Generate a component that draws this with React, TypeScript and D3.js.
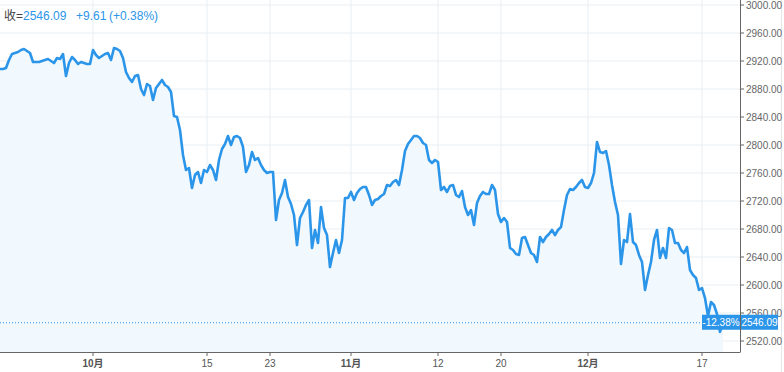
import React from "react";
import * as d3 from "d3";

// closing prices, one per bar
const prices = [
  2908.6, 2908.6, 2910.0, 2921.4, 2930.0, 2931.4, 2932.9, 2935.7, 2937.1, 2934.3,
  2931.4, 2918.6, 2918.6, 2918.6, 2920.0, 2921.4, 2922.9, 2920.0, 2917.1, 2924.3,
  2922.9, 2930.0, 2898.6, 2917.1, 2925.7, 2921.4, 2915.7, 2918.6, 2917.1, 2915.7,
  2915.7, 2935.7, 2928.6, 2924.3, 2927.1, 2930.0, 2931.4, 2921.4, 2938.6, 2937.1,
  2934.3, 2924.3, 2904.3, 2895.7, 2890.0, 2898.6, 2900.0, 2880.0, 2871.4, 2887.1,
  2884.3, 2864.3, 2881.4, 2887.1, 2892.9, 2885.7, 2882.9, 2875.7, 2841.4, 2840.0,
  2821.4, 2785.7, 2764.3, 2767.1, 2738.6, 2757.1, 2761.4, 2745.7, 2764.3, 2761.4,
  2771.4, 2764.3, 2750.0, 2778.6, 2794.3, 2801.4, 2812.9, 2800.0, 2811.4, 2812.9,
  2810.0, 2797.1, 2761.4, 2771.4, 2790.0, 2778.6, 2781.4, 2771.4, 2764.3, 2760.0,
  2761.4, 2761.4, 2692.9, 2721.4, 2731.4, 2750.0, 2725.7, 2715.7, 2700.0, 2657.1,
  2695.7, 2704.3, 2714.3, 2721.4, 2652.9, 2678.6, 2660.0, 2711.4, 2681.4, 2671.4,
  2625.7, 2645.7, 2664.3, 2645.7, 2664.3, 2724.3, 2724.3, 2732.9, 2721.4, 2731.4,
  2737.1, 2740.0, 2740.0, 2728.6, 2714.3, 2721.4, 2722.9, 2727.1, 2730.0, 2742.9,
  2741.4, 2747.1, 2750.0, 2742.9, 2764.3, 2791.4, 2801.4, 2807.1, 2812.9, 2812.9,
  2810.0, 2802.9, 2800.0, 2778.6, 2774.3, 2778.6, 2775.7, 2735.7, 2740.0, 2732.9,
  2741.4, 2742.9, 2728.6, 2725.7, 2734.3, 2711.4, 2700.0, 2707.1, 2685.7, 2717.1,
  2727.1, 2732.9, 2730.0, 2730.0, 2742.9, 2735.7, 2701.4, 2690.0, 2695.7, 2690.0,
  2652.9, 2650.0, 2644.3, 2642.9, 2667.1, 2668.6, 2657.1, 2645.7, 2642.9, 2632.9,
  2668.6, 2661.4, 2668.6, 2672.9, 2678.6, 2671.4, 2678.6, 2682.9, 2707.1, 2728.6,
  2737.1, 2735.7, 2740.0, 2745.7, 2750.0, 2740.0, 2738.6, 2745.7, 2760.0, 2804.3,
  2790.0, 2788.6, 2791.4, 2771.4, 2742.9, 2718.6, 2700.0, 2630.0, 2664.3, 2661.4,
  2701.4, 2661.4, 2657.1, 2642.9, 2632.9, 2592.9, 2614.3, 2632.9, 2664.3, 2678.6,
  2638.6, 2652.9, 2638.6, 2681.4, 2678.6, 2660.0, 2660.0, 2650.0, 2645.7, 2654.3,
  2621.4, 2614.3, 2610.0, 2592.9, 2595.7, 2581.4, 2555.7, 2575.7, 2571.4, 2558.6,
  2532.9, 2546.09,
];

// x-axis ticks (bar index + label)
const tickBars = [31, 69, 90, 117, 146, 167, 196, 234];
const tickLabels = ["10月", "15", "23", "11月", "12", "20", "12月", "17"];
const monthLabels = ["10月", "11月", "12月"];

const yTicks = [2520, 2560, 2600, 2640, 2680, 2720, 2760, 2800, 2840, 2880, 2920, 2960, 3000];

const lastClose = 2546.09;
const dayChange = 9.61;
const dayChangePct = 0.38;
const periodChangePct = -12.38;

const BLUE = "#2b95e9";
const FONT = "'Liberation Sans', Arial, 'Noto Sans CJK SC', sans-serif";

export default function App() {
  const width = 784;
  const height = 372;
  const plotRight = 740;
  const plotBottom = 352;

  const x = d3.scaleLinear().domain([0, plotRight / 3]).range([0, plotRight]);
  const y = d3.scaleLinear().domain([2520, 3000]).range([341, 5]);

  const line = d3
    .line<number>()
    .x((_, i) => x(i))
    .y((d) => y(d));
  const area = d3
    .area<number>()
    .x((_, i) => x(i))
    .y0(plotBottom)
    .y1((d) => y(d));

  const lastY = y(lastClose);

  return (
    <svg
      width={width}
      height={height}
      style={{ position: "absolute", left: 0, top: 0, background: "#fff" }}
      fontFamily={FONT}
    >
      {/* grid */}
      {yTicks.map((t) => (
        <line key={"gy" + t} x1={0} x2={plotRight} y1={y(t)} y2={y(t)} stroke="#e9eef2" />
      ))}
      {tickBars.map((b) => (
        <line key={"gx" + b} x1={x(b)} x2={x(b)} y1={0} y2={plotBottom} stroke="#e9eef2" />
      ))}
      <line x1={781.5} x2={781.5} y1={0} y2={height} stroke="#e3e6e9" />

      {/* series */}
      <path d={area(prices) || ""} fill="#f1f8fe" />
      <path d={line(prices) || ""} fill="none" stroke={BLUE} strokeWidth={2.6} strokeLinejoin="round" />

      {/* last price dotted line */}
      <line
        x1={0}
        x2={plotRight}
        y1={lastY}
        y2={lastY}
        stroke={BLUE}
        strokeWidth={1}
        strokeDasharray="1,2"
      />

      {/* axes */}
      <line x1={plotRight + 0.5} x2={plotRight + 0.5} y1={0} y2={plotBottom} stroke="#666" />
      <line x1={0} x2={plotRight + 0.5} y1={plotBottom + 0.5} y2={plotBottom + 0.5} stroke="#666" />
      {yTicks.map((t) => (
        <g key={"ty" + t}>
          <line x1={plotRight} x2={plotRight + 4} y1={y(t)} y2={y(t)} stroke="#666" />
          <text x={plotRight + 6} y={y(t)} dy="0.35em" fontSize={10} fill="#666">
            {t.toFixed(2)}
          </text>
        </g>
      ))}
      {tickBars.map((b, i) => (
        <g key={"tx" + b}>
          <line x1={x(b)} x2={x(b)} y1={plotBottom} y2={plotBottom + 4} stroke="#666" />
          <text
            x={x(b)}
            y={367}
            textAnchor="middle"
            fontSize={10}
            fill="#555"
            fontWeight={monthLabels.includes(tickLabels[i]) ? "bold" : "normal"}
          >
            {tickLabels[i]}
          </text>
        </g>
      ))}

      {/* last value labels */}
      <rect x={702} y={lastY - 8} width={plotRight - 702} height={15} fill={BLUE} />
      <text x={721} y={lastY} dy="0.35em" textAnchor="middle" fontSize={10} fill="#fff">
        {periodChangePct.toFixed(2)}%
      </text>
      <rect x={plotRight + 1} y={lastY - 8} width={37} height={15} fill={BLUE} />
      <text x={plotRight + 19.5} y={lastY} dy="0.35em" textAnchor="middle" fontSize={10} fill="#fff">
        {lastClose.toFixed(2)}
      </text>

      {/* header */}
      <text y={20} fontSize={12}>
        <tspan x={4} fill="#444">收=</tspan>
        <tspan x={23} fill={BLUE}>{lastClose.toFixed(2)}</tspan>
        <tspan x={76} fill={BLUE}>+{dayChange.toFixed(2)}</tspan>
        <tspan x={109} fill={BLUE}>(+{dayChangePct.toFixed(2)}%)</tspan>
      </text>
    </svg>
  );
}
